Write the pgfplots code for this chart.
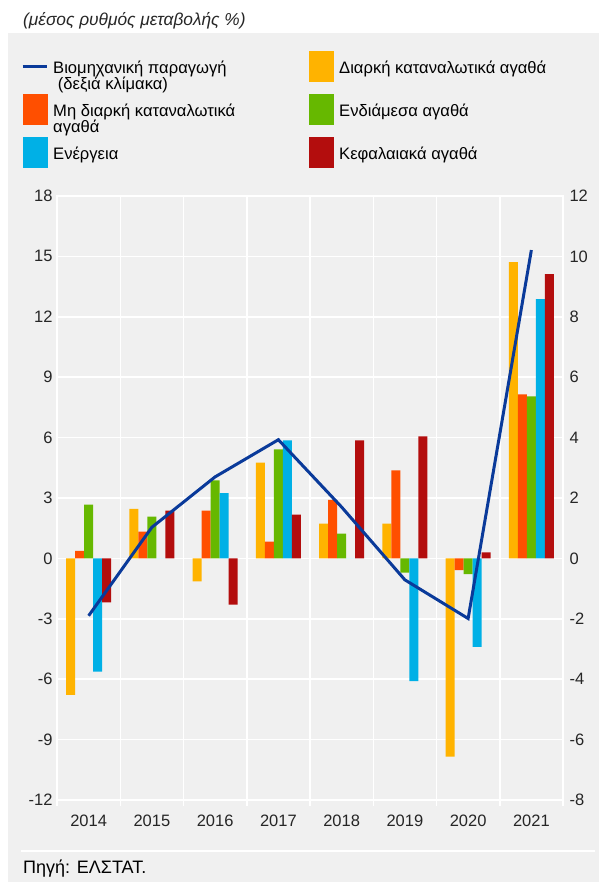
\documentclass[border=0pt]{standalone}
\usepackage{pgfplots}
\pgfplotsset{compat=1.18}
\usepackage{fontspec}
\setmainfont{Liberation Sans}
\definecolor{bg}{HTML}{F0F0F0}
\definecolor{txt}{HTML}{262626}
\definecolor{cD}{HTML}{FFB300}
\definecolor{cN}{HTML}{FF4F00}
\definecolor{cI}{HTML}{66B800}
\definecolor{cE}{HTML}{00B0E6}
\definecolor{cK}{HTML}{B30D0D}
\definecolor{cL}{HTML}{0A3A9A}
\newcommand{\fnt}{\fontsize{16.5}{17}\selectfont}
\newcommand{\lfnt}{\fontsize{16.6}{17}\selectfont}
\newcommand{\lt}[1]{\rule[-19pt]{0pt}{43pt}\hspace{5pt}\vtop{\baselineskip=16pt #1}}
\newcommand{\ltw}[1]{\makebox[261pt][l]{\lt{#1}}}
\pgfplotsset{
  sqleg/.style={legend image code/.code={\path[draw=none,fill=none] (0pt,-30.5pt) -- (0pt,11pt);\fill[##1] (0pt,-20pt) rectangle (25pt,11pt);}},
  lnleg/.style={legend image code/.code={\path[draw=none,fill=none] (0pt,-30.5pt) -- (0pt,11pt);\draw[##1] (0pt,-5pt) -- (24pt,-5pt);}},
}
\pgfplotstableread{
x D N I E K
0 -6.78 0.38 2.67 -5.62 -2.19
1 2.46 1.33 2.07 0 2.37
2 -1.14 2.37 3.87 3.24 -2.29
3 4.76 0.83 5.41 5.86 2.17
4 1.73 2.91 1.23 0 5.86
5 1.73 4.37 -0.70 -6.09 6.06
6 -9.85 -0.58 -0.78 -4.40 0.30
7 14.72 8.15 8.05 12.88 14.12
}\bardata
\pgfplotstableread{
x L
0 -1.90
1 1.03
2 2.70
3 3.93
4 1.70
5 -0.71
6 -1.99
7 10.21
}\linedata
\begin{document}
\begin{tikzpicture}[x=1pt,y=1pt]
\fill[white] (0,0) rectangle (599,-882);
\fill[bg] (8,-33) rectangle (599,-882);
\node[anchor=base west, inner sep=0, font=\fontsize{17.3}{18}\selectfont\itshape, text=txt] at (23,-26) {(μέσος ρυθμός μεταβολής \%)};
\draw[white, line width=2pt] (21,-851) -- (595,-851);
\node[anchor=base west, inner sep=0, font=\fontsize{18}{18}\selectfont, text=black] at (23,-873) {Πηγή: ΕΛΣΤΑΤ.};
\begin{axis}[
  at={(57pt,-800pt)}, anchor=south west, scale only axis,
  width=506pt, height=604pt,
  xmin=-0.5, xmax=7.5, ymin=-12, ymax=18,
  xtick={0,...,7}, xticklabels={2014,2015,2016,2017,2018,2019,2020,2021},
  minor xtick={-0.5,0.5,...,7.5}, xminorgrids, ymajorgrids,
  ytick={-12,-9,...,18},
  grid style={white, line width=1.5pt}, minor grid style={white, line width=1.5pt},
  axis line style={white, line width=1.5pt},
  xtick pos=bottom, ytick pos=left,
  major tick length=0pt, minor tick length=6pt, tick align=outside,
  minor tick style={white, line width=1.5pt},
  tick label style={font=\fnt, text=txt},
  xticklabel style={yshift=-11pt},
  yticklabel style={xshift=-1pt},
  /pgf/number format/assume math mode=true,
  legend columns=2, legend cell align=left,
  legend style={at={(-0.0711,1.2434)}, anchor=north west, draw=none, fill=none,
    inner sep=0pt, row sep=0pt, column sep=0pt,
    nodes={inner sep=0pt, font=\lfnt, text=black}},
]
\addlegendimage{cL, line width=3pt, lnleg}
\addlegendentry{\ltw{\hbox{Βιομηχανική παραγωγή}\hbox{\ (δεξιά κλίμακα)}}}
\addlegendimage{fill=cD, draw=none, sqleg}
\addlegendentry{\lt{\hbox{Διαρκή καταναλωτικά αγαθά}}}
\addlegendimage{fill=cN, draw=none, sqleg}
\addlegendentry{\ltw{\hbox{Μη διαρκή καταναλωτικά}\hbox{αγαθά}}}
\addlegendimage{fill=cI, draw=none, sqleg}
\addlegendentry{\lt{\hbox{Ενδιάμεσα αγαθά}}}
\addlegendimage{fill=cE, draw=none, sqleg}
\addlegendentry{\ltw{\hbox{Ενέργεια}}}
\addlegendimage{fill=cK, draw=none, sqleg}
\addlegendentry{\lt{\hbox{Κεφαλαιακά αγαθά}}}
\addplot[forget plot, ybar, bar width=9pt, bar shift=-18pt, fill=cD, draw=none] table[x=x, y=D] {\bardata};
\addplot[forget plot, ybar, bar width=9pt, bar shift=-9pt, fill=cN, draw=none] table[x=x, y=N] {\bardata};
\addplot[forget plot, ybar, bar width=9pt, bar shift=0pt, fill=cI, draw=none] table[x=x, y=I] {\bardata};
\addplot[forget plot, ybar, bar width=9pt, bar shift=9pt, fill=cE, draw=none] table[x=x, y=E] {\bardata};
\addplot[forget plot, ybar, bar width=9pt, bar shift=18pt, fill=cK, draw=none] table[x=x, y=K] {\bardata};
\end{axis}
\begin{axis}[
  at={(57pt,-800pt)}, anchor=south west, scale only axis,
  width=506pt, height=604pt,
  xmin=-0.5, xmax=7.5, ymin=-8, ymax=12,
  axis x line=none, axis y line*=right,
  ytick={-8,-6,...,12},
  y axis line style={white, line width=1.5pt},
  major tick length=0pt,
  tick label style={font=\fnt, text=txt},
  yticklabel style={xshift=3pt},
  /pgf/number format/assume math mode=true,
]
\addplot[cL, line width=3pt, mark=none] table[x=x, y=L] {\linedata};
\end{axis}
\end{tikzpicture}
\end{document}
